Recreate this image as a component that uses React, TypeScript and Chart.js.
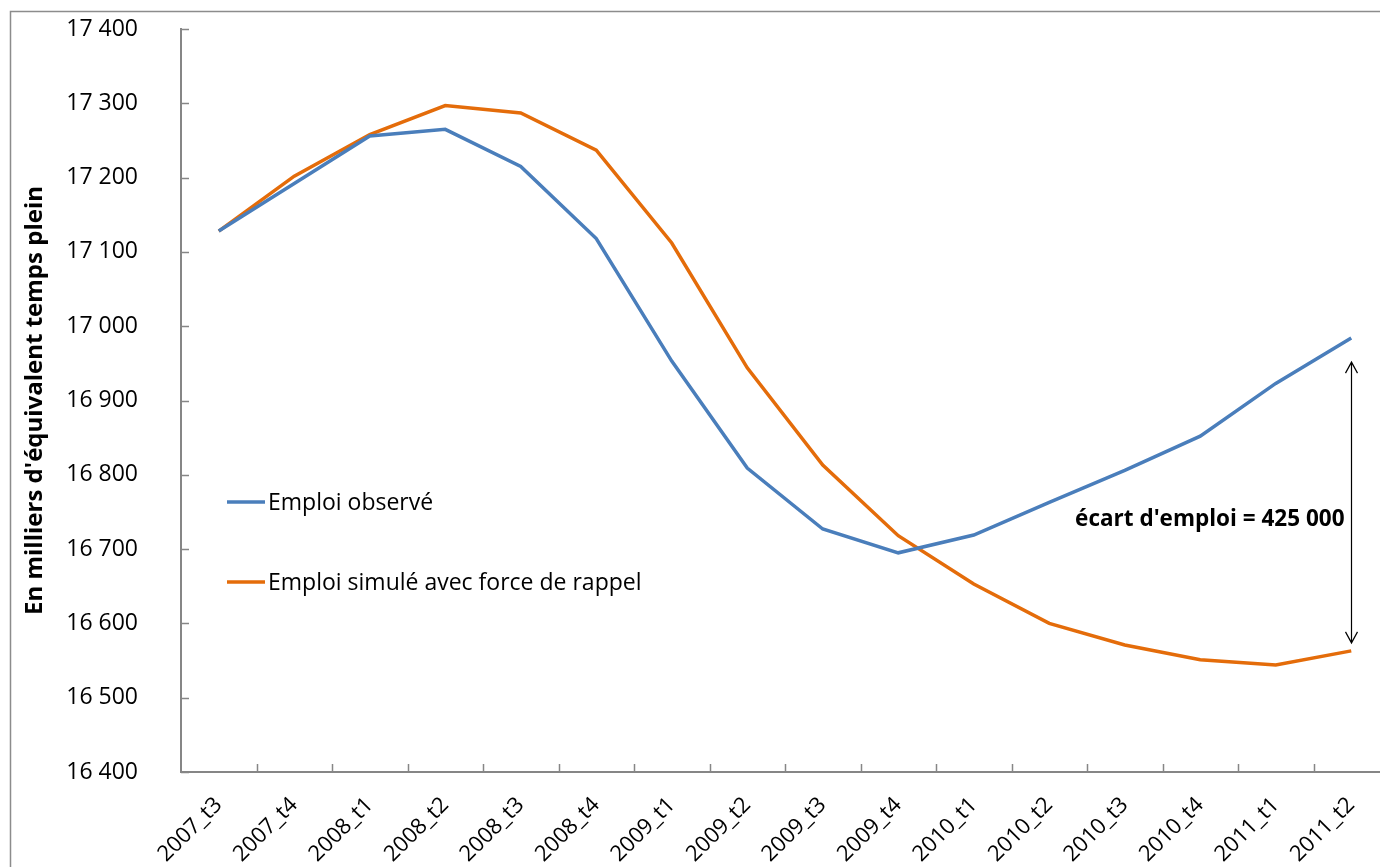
import React, { useEffect, useRef } from "react";
import { Chart, registerables } from "chart.js";

Chart.register(...registerables);

const categories = [
  "2007_t3", "2007_t4", "2008_t1", "2008_t2", "2008_t3", "2008_t4",
  "2009_t1", "2009_t2", "2009_t3", "2009_t4", "2010_t1", "2010_t2",
  "2010_t3", "2010_t4", "2011_t1", "2011_t2",
];

const emploiObserve = [
  17128, 17192, 17256, 17265, 17215, 17118, 16953, 16809,
  16727, 16695, 16719, 16763, 16806, 16852, 16923, 16984,
];

const emploiSimule = [
  17128, 17202, 17258, 17297, 17287, 17237, 17112, 16944,
  16813, 16718, 16653, 16600, 16571, 16551, 16544, 16563,
];

const seriesNames = ["Emploi observé", "Emploi simulé avec force de rappel"];
const annotationText = "écart d'emploi = 425 000";
const yTitle = "En milliers d'équivalent temps plein";

const BLUE = "#4A7EBB";
const ORANGE = "#E46C0A";
const AXIS = "#868686";
const FONT = "'Open Sans', 'Noto Sans', sans-serif";

const CANVAS_W = 1420;
const CANVAS_H = 930;

const fmt = (v: number) => {
  const th = Math.floor(v / 1000);
  const rest = String(Math.round(v % 1000)).padStart(3, "0");
  return `${th} ${rest}`;
};

const decorPlugin = {
  id: "decor",
  beforeDraw(chart: any) {
    const ctx = chart.ctx;
    ctx.save();
    ctx.strokeStyle = "#8c8c8c";
    ctx.lineWidth = 1.5;
    ctx.strokeRect(10.5, 11.5, CANVAS_W, CANVAS_H);
    ctx.restore();
  },
  afterDraw(chart: any) {
    const ctx = chart.ctx;
    const xs = chart.scales.x;
    const ys = chart.scales.y;
    const area = chart.chartArea;
    ctx.save();
    // inner ticks
    ctx.strokeStyle = AXIS;
    ctx.lineWidth = 1.5;
    ctx.beginPath();
    for (let i = 1; i <= categories.length; i++) {
      const x = Math.round((xs.getPixelForValue(i - 1) + xs.getPixelForValue(i)) / 2) + 0.5;
      ctx.moveTo(x, area.bottom);
      ctx.lineTo(x, area.bottom - 8);
    }
    ys.ticks.forEach((t: any) => {
      const y = Math.round(ys.getPixelForValue(t.value)) + 0.5;
      ctx.moveTo(area.left, y);
      ctx.lineTo(area.left + 8, y);
    });
    ctx.stroke();

    // legend
    const legendY = [502, 582];
    const colors = [BLUE, ORANGE];
    ctx.font = `23px ${FONT}`;
    ctx.textBaseline = "middle";
    ctx.textAlign = "left";
    for (let i = 0; i < 2; i++) {
      ctx.strokeStyle = colors[i];
      ctx.lineWidth = 3.5;
      ctx.beginPath();
      ctx.moveTo(227, legendY[i]);
      ctx.lineTo(265, legendY[i]);
      ctx.stroke();
      ctx.fillStyle = "#000";
      ctx.fillText(seriesNames[i], 268, legendY[i] + 1);
    }

    // arrow
    const last = categories.length - 1;
    const ax = Math.round(xs.getPixelForValue(last)) + 0.5;
    const yTop = ys.getPixelForValue(emploiObserve[last]) + 24;
    const yBot = ys.getPixelForValue(emploiSimule[last]) - 8;
    ctx.strokeStyle = "#000";
    ctx.lineWidth = 1.2;
    ctx.beginPath();
    ctx.moveTo(ax, yTop);
    ctx.lineTo(ax, yBot);
    ctx.moveTo(ax - 6, yTop + 11);
    ctx.lineTo(ax, yTop);
    ctx.lineTo(ax + 6, yTop + 11);
    ctx.moveTo(ax - 6, yBot - 11);
    ctx.lineTo(ax, yBot);
    ctx.lineTo(ax + 6, yBot - 11);
    ctx.stroke();

    ctx.font = `bold 22.5px ${FONT}`;
    ctx.fillStyle = "#000";
    ctx.textAlign = "right";
    ctx.textBaseline = "middle";
    ctx.fillText(annotationText, ax - 7, 520);
    ctx.restore();
  },
};

export default function App() {
  const ref = useRef<HTMLCanvasElement>(null);
  useEffect(() => {
    if (!ref.current) return;
    const chart = new Chart(ref.current, {
      type: "line",
      data: {
        labels: categories,
        datasets: [
          {
            label: seriesNames[0],
            data: emploiObserve,
            borderColor: BLUE,
            backgroundColor: BLUE,
            borderWidth: 3.5,
            pointRadius: 0,
            tension: 0,
          },
          {
            label: seriesNames[1],
            data: emploiSimule,
            borderColor: ORANGE,
            backgroundColor: ORANGE,
            borderWidth: 3.5,
            pointRadius: 0,
            tension: 0,
          },
        ],
      },
      plugins: [decorPlugin],
      options: {
        responsive: false,
        animation: false,
        devicePixelRatio: 1,
        layout: { padding: { left: 0, top: 29, right: CANVAS_W - 1389, bottom: 0 } },
        plugins: {
          legend: { display: false },
          tooltip: { enabled: false },
        },
        scales: {
          x: {
            type: "category",
            offset: true,
            grid: { display: false, drawTicks: false, tickLength: 0 },
            border: { display: true, color: AXIS, width: 2 },
            ticks: {
              color: "#000",
              font: { family: FONT, size: 22 },
              maxRotation: 45,
              minRotation: 45,
              autoSkip: false,
              padding: 20,
            },
            afterFit: (scale: any) => {
              scale.height = CANVAS_H - 772;
            },
          },
          y: {
            min: 16400,
            max: 17400,
            grid: {
              display: true,
              drawOnChartArea: false,
              drawTicks: true,
              tickLength: 43,
              color: "rgba(0,0,0,0)",
            },
            border: { display: true, color: AXIS, width: 2 },
            ticks: {
              stepSize: 100,
              color: "#000",
              font: { family: FONT, size: 23 },
              padding: 0,
              callback: (v: any) => fmt(Number(v)),
            },
            title: {
              display: true,
              text: yTitle,
              color: "#000",
              font: { family: FONT, size: 24, weight: "bold" },
              padding: { top: 21, bottom: 0 },
            },
            afterFit: (scale: any) => {
              scale.width = 181;
            },
          },
        },
      },
    });
    return () => chart.destroy();
  }, []);

  return (
    <div
      style={{
        position: "fixed",
        left: 0,
        top: 0,
        width: 1380,
        height: 867,
        overflow: "hidden",
        background: "#fff",
      }}
    >
      <canvas ref={ref} width={CANVAS_W} height={CANVAS_H} style={{ display: "block" }} />
    </div>
  );
}
